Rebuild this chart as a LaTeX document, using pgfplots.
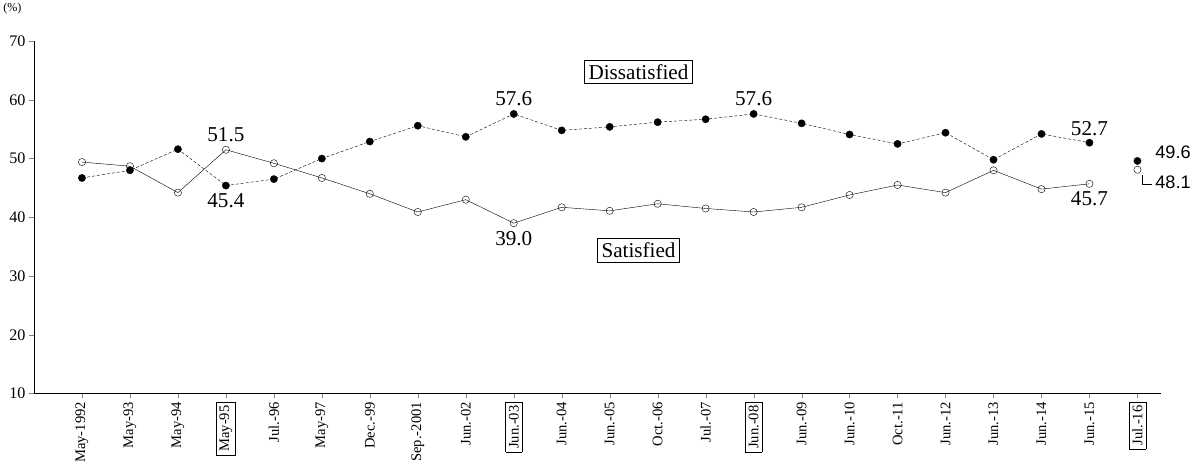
\documentclass[border=0pt]{standalone}
\usepackage{pgfplots}
\pgfplotsset{compat=1.18}
\usepackage{fontspec}
\setmainfont{Liberation Serif}
\newfontfamily\arialf{Liberation Sans}
\begin{document}
\begin{tikzpicture}[x=1pt,y=1pt]
\begin{axis}[
  scale only axis, width=1120pt, height=350pt,
  xmin=-1, xmax=22.5, ymin=10, ymax=70,
  ytick={10,20,...,70},
  xtick={0,...,22},
  xticklabels={May-1992,May-93,May-94,\fbox{May-95},Jul.-96,May-97,Dec.-99,Sep.-2001,Jun.-02,\fbox{Jun.-03},Jun.-04,Jun.-05,Oct.-06,Jul.-07,\fbox{Jun.-08},Jun.-09,Jun.-10,Oct.-11,Jun.-12,Jun.-13,Jun.-14,Jun.-15,\fbox{Jul.-16}},
  xticklabel style={rotate=90, anchor=east, font=\fontsize{14.5}{16}\selectfont},
  yticklabel style={font=\fontsize{16}{18}\selectfont},
  /pgf/number format/assume math mode=true,
  axis x line*=bottom, axis y line*=left,
  tick align=outside, major tick length=5pt,
  clip=false,
]
\addplot[black, densely dashed, mark=*, mark size=3.6pt, mark options={solid,fill=black}] coordinates {
(0,46.7)(1,48.0)(2,51.6)(3,45.4)(4,46.5)(5,50.0)(6,52.9)(7,55.6)(8,53.7)(9,57.6)(10,54.8)(11,55.4)(12,56.2)(13,56.7)(14,57.6)(15,56.0)(16,54.1)(17,52.5)(18,54.4)(19,49.8)(20,54.2)(21,52.7)};
\addplot[black, only marks, mark=*, mark size=3.6pt, fill=black] coordinates {(22,49.6)};
\addplot[black, mark=o, mark size=3.6pt, mark options={fill=white}] coordinates {
(0,49.4)(1,48.7)(2,44.2)(3,51.5)(4,49.2)(5,46.7)(6,44.0)(7,40.9)(8,43.0)(9,39.0)(10,41.7)(11,41.1)(12,42.3)(13,41.5)(14,40.9)(15,41.7)(16,43.8)(17,45.5)(18,44.2)(19,48.0)(20,44.8)(21,45.7)};
\addplot[black, only marks, mark=*, mark size=3.6pt, fill=white] coordinates {(22,48.1)};
\begin{scope}[font=\fontsize{21}{23}\selectfont]
\node[above] at (axis cs:3,52.3) {51.5};
\node[below] at (axis cs:3,44.6) {45.4};
\node[above] at (axis cs:9,58.4) {57.6};
\node[below] at (axis cs:9,38.2) {39.0};
\node[above] at (axis cs:14,58.4) {57.6};
\node[above] at (axis cs:21,53.3) {52.7};
\node[below] at (axis cs:21,45.0) {45.7};
\node[draw, inner sep=4pt] at (axis cs:11.6,64.8) {Dissatisfied};
\node[draw, inner sep=4pt] at (axis cs:11.6,34.4) {Satisfied};
\end{scope}
\node[right, font=\arialf\fontsize{18}{20}\selectfont] at (axis cs:22.3,51.0) {49.6};
\node[right, font=\arialf\fontsize{18}{20}\selectfont] at (axis cs:22.3,46.0) {48.1};
\draw (axis cs:22.1,47.2) -- (axis cs:22.1,45.6) -- (axis cs:22.3,45.6);
\node[font=\fontsize{12}{14}\selectfont] at (axis cs:-1.45,75.5) {(\%)};
\end{axis}
\end{tikzpicture}
\end{document}
